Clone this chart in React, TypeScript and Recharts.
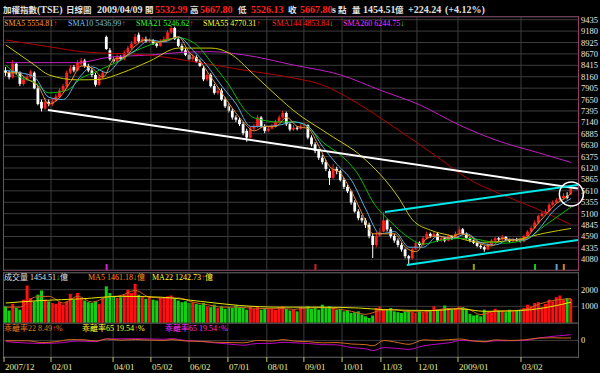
import React from 'react'
import {
  ComposedChart, Bar, Line, XAxis, YAxis, CartesianGrid,
  ReferenceLine, ReferenceDot, Cell,
} from 'recharts'

// TAIEX daily chart, one candle per two trading days, 2007/12 .. 2009/04/09
const opens = [
  8300, 8250, 8150, 8450, 8250, 8000, 8100, 8150, 8250, 7900,
  7600, 7450, 7600, 7550, 7620, 7700, 7850, 7950, 8250, 8380,
  8300, 8450, 8520, 8400, 8300, 8200, 7980, 8150, 9050, 8750,
  8550, 8500, 8600, 8550, 8700, 8800, 8900, 9100, 8950, 9000,
  8950, 8980, 8900, 8850, 8950, 9000, 9150, 9250, 9000, 8850,
  8750, 8650, 8550, 8600, 8500, 8350, 8100, 8200, 7950, 7800,
  7850, 7650, 7500, 7400, 7250, 7200, 7100, 6950, 6800, 7000,
  7050, 7250, 7050, 6950, 7000, 7050, 7150, 7250, 7350, 7100,
  6980, 7020, 7000, 7050, 7080, 6800, 6650, 6500, 6350, 6250,
  6050, 5900, 6100, 6050, 5850, 5700, 5600, 5350, 5150, 5000,
  4950, 4850, 4600, 4400, 4600, 4700, 4950, 4750, 4600, 4500,
  4400, 4300, 4150, 4100, 4300, 4450, 4400, 4550, 4650, 4600,
  4650, 4500, 4550, 4500, 4600, 4550, 4650, 4750, 4650, 4550,
  4500, 4450, 4380, 4350, 4300, 4400, 4500, 4550, 4520, 4580,
  4520, 4480, 4530, 4500, 4480, 4600, 4700, 4780, 4900, 5050,
  5100, 5150, 5300, 5350, 5400, 5450, 5500, 5533,
]
const highs = [
  8380, 8300, 8530, 8480, 8280, 8180, 8230, 8320, 8280, 7950,
  7650, 7680, 7650, 7680, 7780, 7900, 8000, 8300, 8420, 8420,
  8530, 8580, 8560, 8450, 8350, 8250, 8200, 8300, 9080, 8800,
  8600, 8650, 8640, 8750, 8850, 8950, 9120, 9150, 9050, 9060,
  9020, 9000, 8930, 9000, 9060, 9200, 9309, 9280, 9050, 8900,
  8800, 8700, 8660, 8640, 8550, 8400, 8260, 8240, 8000, 7920,
  7900, 7700, 7560, 7450, 7300, 7250, 7150, 7000, 7060, 7100,
  7300, 7280, 7100, 7050, 7100, 7200, 7300, 7400, 7380, 7150,
  7080, 7060, 7100, 7130, 7100, 6850, 6700, 6550, 6420, 6300,
  6100, 6200, 6150, 6080, 5900, 5750, 5620, 5400, 5200, 5070,
  5000, 4900, 4650, 4700, 4780, 5130, 4980, 4800, 4650, 4550,
  4450, 4320, 4180, 4350, 4500, 4480, 4600, 4700, 4680, 4700,
  4680, 4600, 4580, 4640, 4620, 4700, 4820, 4780, 4680, 4580,
  4520, 4470, 4420, 4380, 4440, 4530, 4590, 4580, 4620, 4600,
  4540, 4560, 4560, 4530, 4630, 4730, 4820, 4950, 5080, 5150,
  5200, 5340, 5400, 5450, 5480, 5560, 5580, 5668,
]
const lows = [
  8180, 8100, 8120, 8200, 7950, 7960, 8060, 8120, 7880, 7520,
  7384, 7420, 7500, 7500, 7600, 7680, 7820, 7920, 8220, 8260,
  8280, 8420, 8360, 8260, 8150, 7940, 7960, 8120, 8760, 8520,
  8460, 8480, 8520, 8530, 8680, 8770, 8880, 8920, 8920, 8920,
  8930, 8870, 8810, 8830, 8930, 8980, 9120, 8980, 8820, 8720,
  8620, 8520, 8520, 8470, 8380, 8060, 8060, 7920, 7760, 7760,
  7620, 7460, 7360, 7200, 7150, 7060, 6850, 6708, 6780, 6960,
  7020, 7020, 6900, 6920, 6980, 7020, 7120, 7220, 7060, 6940,
  6950, 6960, 6980, 7030, 6760, 6600, 6450, 6300, 6200, 6050,
  5740, 5880, 5980, 5820, 5650, 5560, 5300, 5120, 4950, 4900,
  4780, 4550, 4110, 4350, 4580, 4680, 4700, 4550, 4450, 4350,
  4250, 4100, 3955, 4080, 4280, 4360, 4380, 4520, 4560, 4580,
  4470, 4470, 4460, 4480, 4510, 4530, 4620, 4620, 4520, 4460,
  4420, 4350, 4310, 4250, 4280, 4380, 4480, 4480, 4500, 4500,
  4450, 4460, 4470, 4450, 4460, 4580, 4680, 4760, 4880, 5020,
  5080, 5130, 5280, 5330, 5380, 5430, 5420, 5526,
]
const closes = [
  8250, 8150, 8450, 8250, 8000, 8100, 8150, 8280, 7900, 7550,
  7450, 7600, 7550, 7620, 7720, 7850, 7950, 8250, 8350, 8300,
  8480, 8520, 8400, 8300, 8200, 7980, 8150, 8250, 8780, 8550,
  8500, 8600, 8550, 8700, 8800, 8900, 9050, 8950, 9000, 8950,
  8980, 8900, 8850, 8950, 9000, 9150, 9250, 9000, 8850, 8750,
  8650, 8550, 8600, 8500, 8400, 8100, 8200, 7950, 7800, 7850,
  7650, 7500, 7400, 7250, 7200, 7100, 6900, 6800, 7000, 7050,
  7250, 7050, 6950, 7000, 7050, 7150, 7250, 7350, 7100, 6980,
  7020, 7000, 7050, 7080, 6800, 6650, 6500, 6350, 6250, 6100,
  5900, 6100, 6050, 5850, 5700, 5600, 5350, 5150, 5000, 4950,
  4850, 4600, 4400, 4600, 4700, 4950, 4750, 4600, 4500, 4400,
  4300, 4150, 4100, 4300, 4450, 4400, 4550, 4650, 4600, 4650,
  4500, 4550, 4500, 4600, 4550, 4650, 4750, 4650, 4550, 4500,
  4450, 4380, 4350, 4300, 4400, 4500, 4550, 4520, 4580, 4520,
  4480, 4530, 4500, 4480, 4600, 4700, 4780, 4900, 5050, 5100,
  5150, 5300, 5350, 5400, 5450, 5500, 5450, 5668,
]
// 成交量 (億)
const volumes = [
  1000, 750, 1150, 900, 800, 1400, 2250, 1500, 1300, 1700,
  1950, 1400, 1300, 1200, 1150, 1250, 1100, 1300, 1750, 1400,
  1800, 1500, 1350, 1250, 1200, 1300, 1150, 1500, 2200, 1800,
  1600, 1500, 1550, 1700, 2000, 1800, 2350, 1700, 1550, 1450,
  1600, 1400, 1350, 1500, 1550, 1600, 1650, 1450, 1350, 1250,
  1300, 1200, 1250, 1150, 1100, 1200, 1000, 950, 1100, 900,
  1000, 850, 950, 900, 1050, 950, 900, 800, 1000, 850,
  950, 800, 900, 850, 900, 800, 950, 1000, 850, 750,
  800, 700, 950, 900, 1000, 850, 900, 800, 1100, 900,
  1000, 900, 800, 850, 700, 750, 600, 650, 700, 500,
  400, 300, 450, 900, 1000, 850, 800, 900, 700, 650,
  600, 700, 750, 650, 600, 700, 650, 700, 750, 1000,
  800, 850, 1050, 900, 800, 850, 1000, 950, 850, 550,
  450, 500, 400, 800, 700, 650, 850, 750, 700, 650,
  800, 700, 750, 800, 900, 1100, 1000, 1200, 1250, 950,
  1150, 1400, 1300, 1550, 1650, 1400, 1500, 1455,
]

// moving averages at some bars: [bar, value]
const sma5Pts = [
  [0, 8250], [3, 8250], [6, 8100], [9, 7950], [12, 7550], [15, 7700], [18, 8050],
  [21, 8400], [24, 8350], [27, 8150], [30, 8550], [33, 8600], [36, 8850], [39, 8990],
  [42, 8930], [45, 8980], [48, 9050], [51, 8700], [54, 8500], [57, 8150], [60, 7800],
  [63, 7450], [66, 7150], [69, 6950], [72, 7050], [75, 7050], [78, 7250], [81, 7050],
  [84, 7000], [87, 6600], [90, 6150], [93, 6000], [96, 5600], [99, 5100], [102, 4650],
  [105, 4650], [108, 4650], [111, 4350], [114, 4250], [117, 4550], [120, 4600],
  [123, 4550], [126, 4650], [129, 4600], [132, 4420], [135, 4380], [138, 4550],
  [141, 4510], [144, 4530], [147, 4800], [150, 5080], [153, 5330], [156, 5480], [157, 5555],
]
const sma10Pts = [
  [0, 8300], [4, 8250], [8, 8150], [12, 7700], [16, 7650], [20, 8100], [24, 8380],
  [28, 8250], [32, 8550], [36, 8750], [40, 8980], [44, 8940], [48, 9050], [52, 8750],
  [56, 8400], [60, 7950], [64, 7550], [68, 7050], [72, 7050], [76, 7080], [80, 7150],
  [84, 7050], [88, 6600], [92, 6200], [96, 5850], [100, 5200], [104, 4650], [108, 4700],
  [112, 4350], [116, 4350], [120, 4600], [124, 4550], [128, 4650], [132, 4450],
  [136, 4400], [140, 4530], [144, 4510], [148, 4750], [152, 5150], [157, 5437],
]
const sma21Pts = [
  [0, 8420], [4, 8150], [8, 8040], [12, 7800], [17, 7860], [21, 8130], [25, 8270],
  [29, 8420], [32, 8530], [35, 8690], [40, 8870], [48, 9030], [53, 8870], [57, 8490],
  [62, 7975], [66, 7460], [69, 7240], [76, 7150], [80, 7150], [84, 7040], [88, 6700],
  [93, 6410], [98, 5960], [102, 5360], [107, 4910], [111, 4620], [116, 4420],
  [121, 4510], [128, 4550], [138, 4440], [144, 4510], [150, 4850], [157, 5247],
]
const sma55Pts = [
  [0, 8870], [8, 8420], [12, 8200], [20, 8090], [26, 8100], [32, 8240], [40, 8510],
  [48, 8800], [57, 8800], [62, 8690], [69, 8200], [76, 7680], [80, 7400], [90, 6860],
  [99, 6370], [109, 5470], [113, 4960], [118, 4730], [123, 4620], [132, 4460],
  [141, 4510], [150, 4670], [157, 4770],
]
const sma144Pts = [
  [0, 8980], [12, 8830], [21, 8720], [40, 8640], [52, 8500], [66, 8310], [80, 8130],
  [88, 7975], [97, 7600], [107, 7080], [114, 6700], [121, 6300], [128, 5900],
  [138, 5520], [147, 5225], [157, 4854],
]
const sma260Pts = [
  [0, 8475], [20, 8475], [29, 8600], [40, 8645], [48, 8700], [57, 8720], [66, 8650],
  [80, 8420], [93, 8200], [104, 7860], [115, 7530], [126, 7080], [137, 6720],
  [148, 6460], [157, 6245],
]
const volMa5Pts = [
  [0, 950], [4, 950], [8, 1550], [12, 1600], [16, 1200], [20, 1600], [24, 1250],
  [28, 1550], [32, 1650], [36, 1950], [40, 1550], [44, 1500], [48, 1500], [52, 1250],
  [56, 1100], [60, 950], [64, 950], [68, 900], [72, 870], [76, 880], [80, 820],
  [84, 900], [88, 920], [92, 850], [96, 700], [100, 520], [104, 750], [108, 800],
  [112, 680], [116, 670], [120, 800], [124, 880], [128, 850], [132, 500], [136, 720],
  [140, 730], [144, 800], [148, 1120], [152, 1350], [157, 1461],
]
const volMa22Pts = [
  [0, 1200], [10, 1350], [21, 1450], [32, 1600], [43, 1550], [54, 1300], [65, 1050],
  [76, 950], [87, 950], [98, 900], [105, 800], [119, 750], [126, 850], [133, 700],
  [140, 720], [146, 800], [153, 1050], [157, 1243],
]
// 乖離率 (%)
const dev22Pts = [
  [0, -1], [6, -1], [10, -7], [14, -4], [18, 3], [22, 2], [25, -2], [28, 5], [32, 1],
  [36, 3], [40, 1], [44, 0], [46, 3], [50, -2], [54, -3], [58, -6], [62, -7], [66, -8],
  [70, 0], [74, -2], [77, 3], [80, -2], [84, -4], [88, -8], [92, -7], [96, -12],
  [100, -14], [102, -18], [105, 0], [108, -5], [112, -13], [116, 2], [120, 0],
  [126, 5], [130, -2], [133, -4], [136, 2], [140, 0], [144, 2], [148, 8], [152, 9],
  [155, 8], [157, 8.5],
]
const dev65Pts = [
  [0, -4], [10, -10], [14, -9], [20, -2], [25, -4], [28, 5], [36, 6], [44, 4], [46, 6],
  [50, 0], [54, -3], [58, -8], [62, -12], [66, -16], [70, -10], [74, -10], [77, -6],
  [80, -8], [84, -10], [88, -14], [92, -15], [96, -24], [100, -28], [102, -34],
  [105, -24], [108, -26], [112, -30], [116, -18], [120, -12], [124, -6], [126, 0],
  [130, -2], [133, -5], [136, -1], [140, -1], [144, 0], [148, 8], [152, 14], [155, 17],
  [157, 19.5],
]

const priceTicks = [
  9435, 9180, 8925, 8670, 8415, 8160, 7905, 7650, 7395, 7140, 6885,
  6630, 6375, 6120, 5865, 5610, 5355, 5100, 4845, 4590, 4335, 4080,
]
const volTicks = [1000, 2000]
const devTicks = [0]
const monthTicks = [-0.5, 12.56, 29.8, 40.3, 50.9, 61.7, 72.5, 82.8, 93.4, 104.2, 114.2, 125.6, 143.1]
const monthLabels = ['2007/12', '02/01', '04/01', '05/02', '06/02', '07/01', '08/01', '09/01', '10/01', '11/03', '12/01', '2009/01', '03/02']
const markerBars = [28, 86, 130, 147, 153, 155]

// hand-drawn lines [bar, price]
const trendWhite = [[11.7, 7417], [158.9, 5662]]
const channelTop = [[105.3, 5137], [158.9, 5741]]
const channelBottom = [[111.4, 3952], [158.9, 4511]]
const ringCenter = [157.1, 5539]

const rows: Record<string, any>[] = closes.map((c, i) => ({
  i, open: opens[i], high: highs[i], low: lows[i], close: c, vol: volumes[i],
}))
const put = (key: string, pts: number[][]) => pts.forEach(([i, v]) => { rows[i][key] = v })
put('sma5', sma5Pts)
put('sma10', sma10Pts)
put('sma21', sma21Pts)
put('sma55', sma55Pts)
put('sma144', sma144Pts)
put('sma260', sma260Pts)
put('vma5', volMa5Pts)
put('vma22', volMa22Pts)
put('dev22', dev22Pts)
put('dev65', dev65Pts)

const X_DOMAIN: [number, number] = [-0.5, 158.94]
const GRID = '#3c3c3c'
const FRAME = '#9a3a6a'
const SERIF = '"Liberation Serif", "Noto Sans CJK TC", serif'
const UP = '#ff2020'
const DOWN = '#ffffff'
const markerColors = ['#d020d0', '#d02020', '#a0a000', '#20c020', '#60a0d0', '#d08020']

function Candle(props: any) {
  const { x, y, width, height, payload } = props
  const top = Math.min(y, y + height)
  const h = Math.abs(height)
  const { open, close, high, low } = payload
  const span = high - low || 1
  const toY = (v: number) => top + ((high - v) / span) * h
  const cx = x + width / 2
  const color = close >= open ? UP : DOWN
  const b1 = toY(Math.max(open, close))
  const b2 = toY(Math.min(open, close))
  return (
    <g>
      <line x1={cx} x2={cx} y1={top} y2={top + h} stroke={color} strokeWidth={1} />
      <rect x={cx - 1.4} y={b1} width={2.8} height={Math.max(1, b2 - b1)} fill={color} />
    </g>
  )
}

function AxisText(props: any) {
  return (
    <text x={581} y={props.y + 3} fill="#e8e8e8" fontSize={8.5} fontFamily={SERIF}>
      {props.payload.value}
    </text>
  )
}

function DateTick(props: any) {
  const { x, y, payload } = props
  const k = monthTicks.indexOf(payload.value)
  return (
    <g>
      <line x1={x} x2={x} y1={y} y2={y + 5} stroke="#c8c860" strokeWidth={1} />
      <text x={x + 1} y={y + 13} fill="#eaea90" fontSize={9} fontFamily={SERIF}>
        {monthLabels[k]}
      </text>
    </g>
  )
}

function T({ x, y, c, s = 8, b = false, children }: any) {
  return (
    <span style={{
      position: 'absolute', left: x, top: y - s / 2, fontSize: s, lineHeight: 1,
      color: c, fontWeight: b ? 'bold' : 'normal', whiteSpace: 'nowrap', fontFamily: SERIF,
    }}>{children}</span>
  )
}

const maLine = (key: string, color: string) => (
  <Line key={key} dataKey={key} type="monotone" stroke={color} strokeWidth={1} dot={false}
    connectNulls isAnimationActive={false} />
)

const layer: React.CSSProperties = { position: 'absolute', left: 0, top: 0 }
const HEAD = '#e0e0e0'
const RED = '#ff2020'

export default function App() {
  const gridX = monthTicks.slice(1).map((t) => <ReferenceLine key={'g' + t} x={t} stroke={GRID} />)
  const legend = [
    ['SMA5', '5554.81', true, '#ff9a30'],
    ['SMA10', '5436.99', true, '#70c0f0'],
    ['SMA21', '5246.62', true, '#30ff30'],
    ['SMA55', '4770.31', true, '#ffff30'],
    ['SMA144', '4853.84', false, '#ff2020'],
    ['SMA260', '6244.75', false, '#ff30ff'],
  ]
  const legendX = [4, 68, 136, 203, 272, 343]
  const arrow = (up: boolean) => <span style={{ color: up ? '#ff2020' : '#20e020' }}>{up ? '↑' : '↓'}</span>
  return (
    <div style={{ position: 'fixed', left: 0, top: 0, width: 600, height: 373, background: '#000', overflow: 'hidden' }}>
      {/* header */}
      <T x={3} y={10} c={HEAD} s={8.5} b>加權指數</T>
      <T x={37} y={10} c={HEAD} s={10} b>(TSE)</T>
      <T x={66} y={10} c={HEAD} s={8.5} b>日線圖</T>
      <T x={97} y={10} c={HEAD} s={10} b>2009/04/09</T>
      <T x={145} y={10} c={HEAD} s={8.5} b>開</T>
      <T x={155} y={10} c={RED} s={10} b>5532.99</T>
      <T x={190} y={10} c={HEAD} s={8.5} b>高</T>
      <T x={200} y={10} c={RED} s={10} b>5667.80</T>
      <T x={238} y={10} c={HEAD} s={8.5} b>低</T>
      <T x={251} y={10} c={RED} s={10} b>5526.13</T>
      <T x={288} y={10} c={HEAD} s={8.5} b>收</T>
      <T x={300} y={10} c={RED} s={10} b>5667.80</T>
      <T x={332} y={10} c={HEAD} s={10} b>s</T>
      <T x={338} y={10} c={HEAD} s={8.5} b>點</T>
      <T x={352} y={10} c={HEAD} s={8.5} b>量</T>
      <T x={363} y={10} c={HEAD} s={10} b>1454.51</T>
      <T x={395} y={10} c={HEAD} s={8.5} b>億</T>
      <T x={408} y={10} c={HEAD} s={10} b>+224.24</T>
      <T x={445} y={10} c={HEAD} s={10} b>(+4.12%)</T>

      {/* panel frames */}
      <div style={{ position: 'absolute', left: 3, top: 16, width: 576, height: 255, boxSizing: 'border-box', border: `1px solid ${FRAME}` }} />
      <div style={{ position: 'absolute', left: 3, top: 272, width: 576, height: 86, boxSizing: 'border-box', border: '1px solid #5a5a5a', borderLeftColor: FRAME }} />
      <div style={{ position: 'absolute', left: 4, top: 323, width: 574, height: 1, background: '#5a5a5a' }} />

      {/* price panel */}
      <div style={layer}>
        <ComposedChart width={600} height={373} data={rows} margin={{ top: 17, right: 0, bottom: 103, left: 4 }}>
          <CartesianGrid vertical={false} stroke={GRID} />
          <XAxis dataKey="i" type="number" domain={X_DOMAIN} hide allowDataOverflow />
          <YAxis orientation="right" width={22} domain={[3841, 9495]} ticks={priceTicks} interval={0}
            axisLine={false} tickLine={false} tick={<AxisText />} allowDataOverflow />
          {gridX}
          {markerBars.map((b, k) => (
            <ReferenceLine key={'m' + k} segment={[{ x: b, y: 3841 }, { x: b, y: 3975 }]}
              stroke={markerColors[k]} strokeWidth={2} />
          ))}
          <Bar dataKey={(d: any) => [d.low, d.high]} barSize={3} shape={(p: any) => <Candle {...p} />}
            isAnimationActive={false} />
          {maLine('sma260', '#c020c0')}
          {maLine('sma144', '#b00000')}
          {maLine('sma55', '#c8c800')}
          {maLine('sma21', '#00c000')}
          {maLine('sma10', '#5aaee0')}
          {maLine('sma5', '#e8902a')}
          <ReferenceLine segment={trendWhite.map(([x, y]) => ({ x, y }))} stroke="#ffffff" strokeWidth={2} />
          <ReferenceLine segment={channelTop.map(([x, y]) => ({ x, y }))} stroke="#00e8e8" strokeWidth={2} />
          <ReferenceLine segment={channelBottom.map(([x, y]) => ({ x, y }))} stroke="#00e8e8" strokeWidth={2} />
          <ReferenceDot x={ringCenter[0]} y={ringCenter[1]} r={12} fill="none" stroke="#ffffff" strokeWidth={1.5} />
        </ComposedChart>
      </div>

      {/* volume panel */}
      <div style={layer}>
        <ComposedChart width={600} height={373} data={rows} margin={{ top: 273, right: 0, bottom: 50, left: 4 }}>
          <CartesianGrid vertical={false} stroke={GRID} />
          <XAxis dataKey="i" type="number" domain={X_DOMAIN} hide allowDataOverflow />
          <YAxis orientation="right" width={22} domain={[0, 3000]} ticks={volTicks} interval={0}
            axisLine={false} tickLine={false} tick={<AxisText />} />
          {gridX}
          <Bar dataKey="vol" barSize={3} isAnimationActive={false}>
            {rows.map((r, k) => <Cell key={k} fill={r.close >= r.open ? '#ff1010' : '#10d010'} />)}
          </Bar>
          {maLine('vma5', '#c8641e')}
          {maLine('vma22', '#e6e600')}
        </ComposedChart>
      </div>

      {/* deviation panel */}
      <div style={layer}>
        <ComposedChart width={600} height={373} data={rows} margin={{ top: 323, right: 0, bottom: 0, left: 4 }}>
          <CartesianGrid vertical={false} stroke={GRID} />
          <XAxis dataKey="i" type="number" domain={X_DOMAIN} ticks={monthTicks} interval={0} height={16}
            axisLine={false} tickLine={false} tickSize={0} tickMargin={0} tick={<DateTick />} allowDataOverflow />
          <YAxis orientation="right" width={22} domain={[-55.5, 58.5]} ticks={devTicks} interval={0}
            axisLine={false} tickLine={false} tick={<AxisText />} />
          {gridX}
          {maLine('dev65', '#c000c0')}
          {maLine('dev22', '#d2691e')}
        </ComposedChart>
      </div>

      {/* legends */}
      {legend.map(([n, v, up, c], k) => (
        <T key={n as string} x={legendX[k]} y={23.5} c={c}>{n} {v}{arrow(up as boolean)}</T>
      ))}
      <T x={4} y={278} c="#e0e0e0">成交量 1454.51{arrow(false)}億</T>
      <T x={88} y={278} c="#ff8c1a">MA5 1461.18{arrow(false)}億</T>
      <T x={152} y={278} c="#ffff30">MA22 1242.73{arrow(true)}億</T>
      <T x={4} y={329} c="#e07a20">乖離率22 8.49{arrow(true)}%</T>
      <T x={82} y={329} c="#ffff30">乖離率65 19.54{arrow(true)}%</T>
      <T x={165} y={329} c="#ff30ff">乖離率65 19.54{arrow(true)}%</T>
    </div>
  )
}
